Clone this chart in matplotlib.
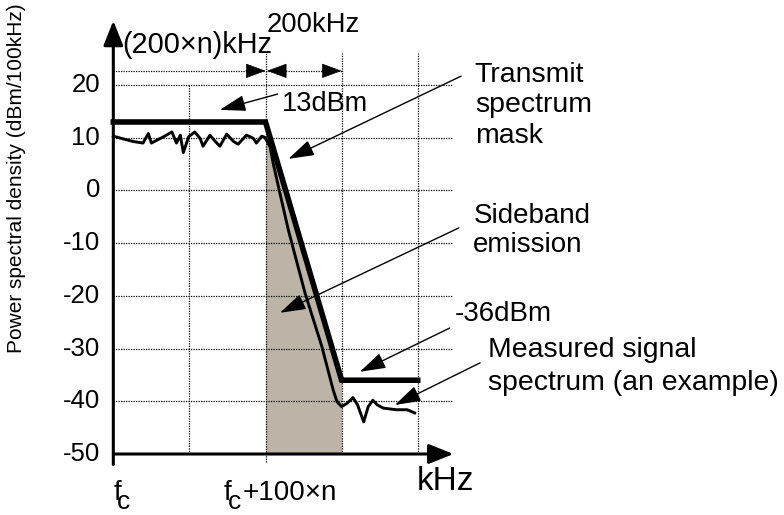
import matplotlib
matplotlib.use("Agg")
import matplotlib.pyplot as plt

plt.rcParams['font.family'] = ['Liberation Sans', 'DejaVu Sans']

# mask and measured spectrum (x in grid units, 0 = fc, 2 = fc+100xn)
mask_x = [0, 2, 3, 4]
mask_y = [13, 13, -36, -36]

sig_x = [0, 0.26, 0.39, 0.46, 0.50, 0.58, 0.66, 0.77, 0.83, 0.88, 0.92, 0.99,
         1.07, 1.14, 1.18, 1.27, 1.34, 1.40, 1.49, 1.58, 1.64, 1.75, 1.84, 1.88,
         1.95, 1.99, 2.06, 2.10, 2.17, 2.30, 2.52, 2.74, 2.89, 2.94, 3.00, 3.07,
         3.15, 3.21, 3.29, 3.35, 3.41, 3.47, 3.55, 3.72, 3.86, 3.96]
sig_y = [10.3, 9.3, 9.0, 10.8, 9.0, 9.6, 10.2, 11.1, 9.0, 10.5, 7.2, 10.2,
         11.1, 9.9, 8.4, 10.5, 9.3, 8.4, 10.7, 9.3, 8.8, 10.5, 9.9, 9.0,
         10.3, 10.1, 8.3, 5.2, 0.7, -7.5, -19.5, -29.6, -37.9, -40.1, -41.0, -40.4,
         -39.3, -40.7, -43.9, -41.0, -39.8, -40.7, -41.3, -41.6, -41.6, -42.2]

yticks = [20, 10, 0, -10, -20, -30, -40, -50]
grid_y = [20, 10, 0, -10, -20, -30, -40]
grid_x = [1, 2, 3, 4]
grid_top = [20, 26, 26, 26]

fig = plt.figure(figsize=(7.84, 5.15), dpi=100)
ax = fig.add_axes([0, 0, 1, 1])
ax.set_xlim(-1.489, 8.813)
ax.set_ylim(-61.575, 36.147)
ax.axis('off')

dot = (0, (1, 1))
for g in grid_y:
    ax.plot([0, 4.46], [g, g], color='black', lw=0.9, ls=dot, zorder=1)
for gx, gt in zip(grid_x, grid_top):
    bottom = -51.5 if gx == 2 else -50
    ax.plot([gx, gx], [bottom, gt], color='black', lw=0.9, ls=dot, zorder=1)

# sideband emission area
ax.fill_between(mask_x[1:3], -50, mask_y[1:3], color='#bcb4a7', lw=0, zorder=0)

ax.plot(mask_x, mask_y, color='black', lw=4.0, solid_joinstyle='miter', zorder=3)
ax.plot(sig_x, sig_y, color='black', lw=2.1, solid_joinstyle='round', zorder=3)

# axes with arrow heads
axis_arrow = dict(arrowstyle='-|>,head_length=0.75,head_width=0.3', lw=2.2,
                  color='black', shrinkA=0, shrinkB=0, mutation_scale=20)
ax.annotate('', xy=(0, 32.2), xytext=(0, -52), arrowprops=axis_arrow)
ax.annotate('', xy=(4.47, -50), xytext=(0, -50), arrowprops=axis_arrow)

for t in yticks:
    ax.text(-0.175, t, str(t), ha='right', va='center', fontsize=18.5)
ax.text(-1.27, 2.4, 'Power spectral density (dBm/100kHz)', rotation=90,
        ha='center', va='center', fontsize=15)

# x labels
ax.text(0.0, -58.7, 'f', fontsize=20, ha='left', va='baseline')
ax.text(0.05, -60.4, 'c', fontsize=19, ha='left', va='baseline')
ax.text(1.445, -58.7, 'f', fontsize=20, ha='left', va='baseline')
ax.text(1.50, -60.4, 'c', fontsize=19, ha='left', va='baseline')
ax.text(1.705, -58.7, '+100×n', fontsize=20, ha='left', va='baseline')
ax.text(3.99, -56.8, 'kHz', fontsize=24, ha='left', va='baseline')

# bandwidth dimension line
ax.plot([0, 3], [22.7, 22.7], color='black', lw=0.9, ls=dot, zorder=1)
head = dict(arrowstyle='-|>,head_length=0.65,head_width=0.24', lw=0.5,
            color='black', shrinkA=0, shrinkB=0, mutation_scale=20)
ax.annotate('', xy=(2, 22.7), xytext=(1.74, 22.7), arrowprops=head)
ax.annotate('', xy=(2.02, 22.7), xytext=(2.28, 22.7), arrowprops=head)
ax.annotate('', xy=(3, 22.7), xytext=(2.74, 22.7), arrowprops=head)
ax.text(0.116, 26.0, '(200×n)kHz', fontsize=20.8, ha='left', va='baseline')
ax.text(2.02, 30.1, '200kHz', fontsize=19.7, ha='left', va='baseline')

# callouts
call = dict(arrowstyle='-|>,head_length=0.8,head_width=0.25', lw=1.0,
            color='black', shrinkA=0, shrinkB=0, mutation_scale=20)
ax.annotate('', xy=(1.40, 15.3), xytext=(2.16, 18.3), arrowprops=call)
ax.annotate('', xy=(2.30, 6.0), xytext=(4.57, 21.7), arrowprops=call)
ax.annotate('', xy=(2.19, -23.2), xytext=(4.54, -7.1), arrowprops=call)
ax.annotate('', xy=(3.24, -34.4), xytext=(4.42, -26.1), arrowprops=call)
ax.annotate('', xy=(3.70, -40.7), xytext=(4.82, -32.7), arrowprops=call)

ax.text(2.22, 15.1, '13dBm', fontsize=19.5, ha='left', va='baseline')
for txt, yb in zip(['Transmit', 'spectrum', 'mask'], [20.6, 14.9, 9.0]):
    ax.text(4.75, yb, txt, fontsize=20.5, ha='left', va='baseline')
for txt, yb in zip(['Sideband', 'emission'], [-6.17, -11.7]):
    ax.text(4.73, yb, txt, fontsize=20, ha='left', va='baseline')
ax.text(4.49, -24.8, '-36dBm', fontsize=20, ha='left', va='baseline')
for txt, yb in zip(['Measured signal', 'spectrum (an example)'], [-31.6, -37.9]):
    ax.text(4.92, yb, txt, fontsize=20.4, ha='left', va='baseline')

fig.savefig('out.png', dpi=100)
